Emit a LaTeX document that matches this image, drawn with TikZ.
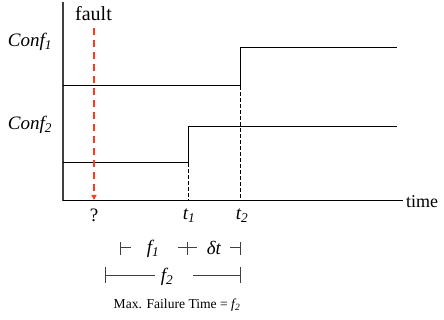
\documentclass[tikz,border=0pt]{standalone}
\usepackage{fontspec}
\setmainfont{Liberation Serif}
\usetikzlibrary{arrows.meta}
\definecolor{faultred}{HTML}{FF3B1F}
\tikzset{
  axisline/.style={line width=1.1pt, black!75},
  timeline/.style={line width=1pt, black},
  stepline/.style={line width=1pt, black},
  guide/.style={line width=0.8pt, black, dash pattern=on 4pt off 2pt},
  faultarrow/.style={line width=1.8pt, faultred, dash pattern=on 7pt off 5pt, -{Triangle[width=5pt,length=5pt]}},
  tick/.style={line width=1pt, black!75},
  lbl/.style={inner sep=0pt, font=\fontsize{19}{21}\selectfont},
  small/.style={inner sep=0pt, font=\fontsize{13.6}{15}\selectfont},
}
\begin{document}
\begin{tikzpicture}[x=1pt,y=-1pt]
\useasboundingbox (0,0) rectangle (444,320);
% axes
\coordinate (ytop) at (63,2);
\coordinate (orig) at (63,201);
\coordinate (xend) at (403,201);
\draw[axisline] (ytop) -- (orig);
\draw[timeline] (orig) -- (xend);
\node[lbl, anchor=west, font=\fontsize{18}{20}\selectfont] (time) at (406,202) {time};
% labels
\node[lbl, font=\fontsize{20}{22}\selectfont] (fault) at (93.5,14) {fault};
\node[lbl] (conf1) at (30,42) {\textit{Conf\textsubscript{1}}};
\node[lbl] (conf2) at (30,125) {\textit{Conf\textsubscript{2}}};
% Conf1 step
\coordinate (c1a) at (63,86);
\coordinate (c1b) at (240,86);
\coordinate (c1c) at (240,48);
\coordinate (c1d) at (397,48);
\draw[stepline] (c1a) -- (c1b) -- (c1c) -- (c1d);
% Conf2 step
\coordinate (c2a) at (63,163);
\coordinate (c2b) at (188,163);
\coordinate (c2c) at (188,127);
\coordinate (c2d) at (397,127);
\draw[stepline] (c2a) -- (c2b) -- (c2c) -- (c2d);
% guides
\coordinate (t1base) at (188,201);
\coordinate (t2base) at (240,201);
\draw[guide] (c2b) -- (t1base);
\draw[guide] (c1b) -- (t2base);
% fault arrow
\coordinate (fstart) at (94,28);
\coordinate (fend) at (94,200);
\draw[faultarrow] (fstart) -- (fend);
% time labels
\node[lbl] (q) at (94,215) {?};
\node[lbl] (t1) at (189,216) {\textit{t\textsubscript{1}}};
\node[lbl] (t2) at (242,216) {\textit{t\textsubscript{2}}};
% f1 / dt row
\coordinate (a1) at (120,242); \coordinate (a2) at (120,255);
\coordinate (a3) at (120,248); \coordinate (a4) at (131,248);
\draw[tick] (a1) -- (a2); \draw[tick] (a3) -- (a4);
\node[lbl] (f1) at (153,249) {\textit{f\textsubscript{1}}};
\coordinate (b1) at (178,248); \coordinate (b2) at (197,248);
\coordinate (b3) at (187,242); \coordinate (b4) at (187,255);
\draw[tick] (b1) -- (b2); \draw[tick] (b3) -- (b4);
\node[lbl] (dt) at (214,248) {\textit{δt}};
\coordinate (d1) at (230,248); \coordinate (d2) at (240,248);
\coordinate (d3) at (240,242); \coordinate (d4) at (240,255);
\draw[tick] (d1) -- (d2); \draw[tick] (d3) -- (d4);
% f2 row
\coordinate (e1) at (105,267); \coordinate (e2) at (105,283);
\coordinate (e3) at (105,275); \coordinate (e4) at (155,275);
\draw[tick] (e1) -- (e2); \draw[tick] (e3) -- (e4);
\node[lbl] (f2) at (167,277) {\textit{f\textsubscript{2}}};
\coordinate (g1) at (193,275); \coordinate (g2) at (240,275);
\coordinate (g3) at (240,267); \coordinate (g4) at (240,283);
\draw[tick] (g1) -- (g2); \draw[tick] (g3) -- (g4);
% caption
\node[small] (maxf) at (177,305) {Max. Failure Time = \textit{f\textsubscript{2}}};
\end{tikzpicture}
\end{document}
